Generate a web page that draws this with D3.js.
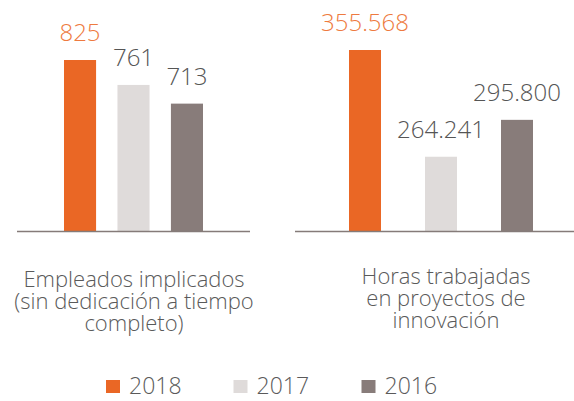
<!DOCTYPE html>
<html>
<head>
<meta charset="utf-8">
<script src="https://cdn.jsdelivr.net/npm/d3@7"></script>
<style>
  html, body { margin: 0; padding: 0; background: #fff; }
  svg { display: block; font-family: "Open Sans", sans-serif; font-weight: 300; }
</style>
</head>
<body>
<svg id="chart" width="574" height="401"></svg>
<script>
// Series years and their colours
const years = ["2018", "2017", "2016"];
const yearColors = ["#EA6725", "#DFDBDA", "#887C7A"];
const labelColors = ["#EE7A40", "#555555", "#555555"];

// Values per panel
const empleados = [825, 761, 713];
const horas = [355568, 264241, 295800];

// Panel captions
const captionEmpleados = ["Empleados implicados", "(sin dedicación a tiempo", "completo)"];
const captionHoras = ["Horas trabajadas", "en proyectos de", "innovación"];

const svg = d3.select("#chart");
const baseline = 231;
const textGray = "#5a5a5a";

// Spanish number formatting: "." for thousands
const es = d3.formatLocale({ decimal: ",", thousands: ".", grouping: [3], currency: ["", " €"] });
const fmt = es.format(",d");

const panels = [
  {
    values: empleados,
    caption: captionEmpleados,
    xRange: [64, 203], padInner: 0.4,
    yDomain: [386, 825], yTop: 60,
    axis: [17, 250],
    captionX: 134, captionY: 287
  },
  {
    values: horas,
    caption: captionHoras,
    xRange: [349, 533], padInner: 0.579,
    yDomain: [200700, 355568], yTop: 50,
    axis: [295, 574],
    captionX: 446, captionY: 284
  }
];

panels.forEach(p => {
  const x = d3.scaleBand().domain(years).range(p.xRange).paddingInner(p.padInner).paddingOuter(0);
  const y = d3.scaleLinear().domain(p.yDomain).range([baseline, p.yTop]);
  const data = years.map((yr, i) => ({ year: yr, value: p.values[i], i }));
  const g = svg.append("g");

  g.selectAll("rect.bar").data(data).join("rect")
    .attr("class", "bar")
    .attr("x", d => x(d.year))
    .attr("width", x.bandwidth())
    .attr("y", d => y(d.value))
    .attr("height", d => baseline - y(d.value))
    .attr("fill", d => yearColors[d.i]);

  g.selectAll("text.val").data(data).join("text")
    .attr("class", "val")
    .attr("x", d => x(d.year) + x.bandwidth() / 2)
    .attr("y", d => y(d.value) - 19)
    .attr("text-anchor", "middle")
    .attr("font-size", 24)
    .attr("fill", d => labelColors[d.i])
    .text(d => fmt(d.value));

  g.append("line")
    .attr("x1", p.axis[0]).attr("x2", p.axis[1])
    .attr("y1", baseline + 0.5).attr("y2", baseline + 0.5)
    .attr("stroke", "#857B79").attr("stroke-width", 1.6);

  g.append("text")
    .attr("x", p.captionX)
    .attr("y", p.captionY)
    .attr("text-anchor", "middle")
    .attr("font-size", 22)
    .attr("fill", textGray)
    .selectAll("tspan").data(p.caption).join("tspan")
      .attr("x", p.captionX)
      .attr("dy", (d, i) => i === 0 ? 0 : 22)
      .text(d => d);
});

// Legend
const legendX = [106, 233.5, 361.5];
const legend = svg.append("g").selectAll("g").data(years).join("g")
  .attr("transform", (d, i) => `translate(${legendX[i]},380)`);
legend.append("rect")
  .attr("width", 14).attr("height", 13)
  .attr("fill", (d, i) => yearColors[i]);
legend.append("text")
  .attr("x", 23).attr("y", 14)
  .attr("font-size", 23)
  .attr("fill", textGray)
  .text(d => d);
</script>
</body>
</html>
